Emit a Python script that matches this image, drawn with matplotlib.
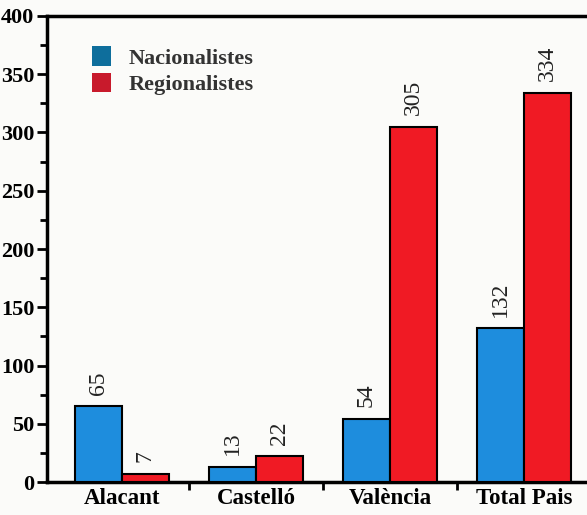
import matplotlib
matplotlib.use("Agg")
import matplotlib.pyplot as plt
import numpy as np
from matplotlib.patches import Patch
from matplotlib.ticker import MultipleLocator

categories = ["Alacant", "Castelló", "València", "Total Pais"]
nacionalistes = [65, 13, 54, 132]
regionalistes = [7, 22, 305, 334]
series_names = ["Nacionalistes", "Regionalistes"]
yticks = [0, 50, 100, 150, 200, 250, 300, 350, 400]

blue = "#1e8ddd"
red = "#f01a24"
legend_blue = "#0e6e9c"
legend_red = "#c81a2c"

fig = plt.figure(figsize=(5.87, 5.15), dpi=100)
fig.patch.set_facecolor("#fbfbf9")
ax = fig.add_axes([0.080, 0.064, 0.92, 0.905])
ax.set_facecolor("#fbfbf9")

x = np.arange(len(categories))
w = 0.35
ax.bar(x - w / 2, nacionalistes, w, color=blue, edgecolor="black", linewidth=1.5, zorder=3)
ax.bar(x + w / 2, regionalistes, w, color=red, edgecolor="black", linewidth=1.5, zorder=3)

lab_font = dict(family="Liberation Serif", fontsize=17, rotation=90, ha="center", va="bottom", color="#222222")
for xi, v in zip(x - w / 2, nacionalistes):
    ax.text(xi, v + 10, str(v), **lab_font)
for xi, v in zip(x + w / 2, regionalistes):
    ax.text(xi, v + 10, str(v), **lab_font)

ax.set_ylim(0, 400)
ax.set_xlim(-0.56, 3.47)
ax.set_yticks(yticks)
ax.yaxis.set_minor_locator(MultipleLocator(25))
ax.set_yticklabels([str(t) for t in yticks], fontfamily="Liberation Serif", fontweight="bold", fontsize=16)
ax.set_xticks(x)
ax.set_xticklabels(categories, fontfamily="Liberation Serif", fontweight="bold", fontsize=16.5)
ax.tick_params(axis="x", length=0, pad=4)
ax.set_xticks([0.5, 1.5, 2.5], minor=True)
ax.tick_params(axis="x", which="minor", length=6, width=2, direction="out")
ax.tick_params(axis="y", which="major", length=7, width=2, direction="out", pad=2)
ax.tick_params(axis="y", which="minor", length=5, width=2, direction="out")

for s in ["left", "bottom", "top"]:
    ax.spines[s].set_linewidth(2.5)
ax.spines["right"].set_visible(False)

handles = [Patch(facecolor=legend_blue, edgecolor="none"), Patch(facecolor=legend_red, edgecolor="none")]
leg = ax.legend(handles, series_names, loc="upper left", bbox_to_anchor=(0.054, 0.968), frameon=False,
                prop=dict(family="Liberation Serif", weight="bold", size=16),
                handlelength=0.85, handleheight=0.95, handletextpad=0.8, labelspacing=0.2,
                borderpad=0.2)
for t in leg.get_texts():
    t.set_color("#333333")

fig.savefig("out.png", dpi=100, facecolor=fig.get_facecolor())
